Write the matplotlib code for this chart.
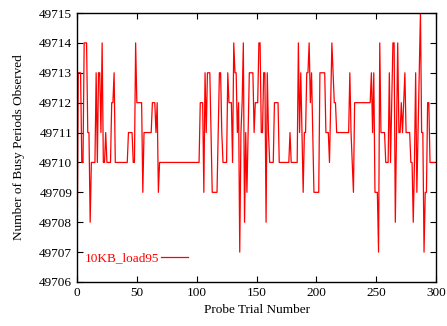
import matplotlib
matplotlib.use("Agg")
import matplotlib.pyplot as plt
import numpy as np

plt.rcParams['font.family'] = ['Liberation Serif', 'DejaVu Serif']

series_label = "10KB_load95"
busy_periods = (
    [49706, 49713, 49713, 49713, 49710, 49710, 49714, 49714, 49714, 49711,
     49711, 49708, 49710, 49710, 49710, 49710, 49713, 49710, 49713, 49713,
     49711, 49714, 49710, 49710, 49711, 49710, 49710, 49710, 49710, 49712,
     49712, 49713]
    + [49710] * 11
    + [49711] * 4
    + [49710] * 2
    + [49714]
    + [49712] * 5
    + [49709]
    + [49711] * 7
    + [49712] * 3
    + [49711, 49712, 49709]
    + [49710] * 34
    + [49712] * 3
    + [49709, 49713, 49711]
    + [49713] * 3
    + [49711]
    + [49709] * 5
    + [49711, 49713, 49713, 49711]
    + [49710] * 4
    + [49713]
    + [49712] * 3
    + [49710, 49714, 49713, 49713, 49711, 49712, 49707, 49711, 49712, 49714,
       49708, 49711, 49709, 49711]
    + [49713] * 4
    + [49711]
    + [49712] * 3
    + [49714] * 2
    + [49711] * 2
    + [49713, 49713, 49708, 49713, 49711]
    + [49710] * 4
    + [49712] * 4
    + [49710] * 9
    + [49711]
    + [49710] * 6
    + [49714, 49711, 49713, 49711, 49709, 49711, 49711, 49713, 49713, 49714,
       49712, 49713, 49711]
    + [49709] * 5
    + [49713] * 5
    + [49711] * 3
    + [49710, 49712, 49714, 49713, 49712, 49712]
    + [49711] * 11
    + [49713, 49711, 49710, 49709]
    + [49712] * 14
    + [49713, 49711, 49713, 49709, 49709, 49709, 49707, 49714]
    + [49711] * 4
    + [49710] * 3
    + [49713, 49710, 49712, 49714, 49714, 49708, 49711, 49714, 49711, 49711,
       49712, 49711, 49712, 49713]
    + [49711] * 4
    + [49710, 49710, 49708, 49710, 49713, 49709, 49711, 49713, 49715, 49711,
       49711, 49707, 49709, 49709, 49712, 49712]
    + [49710] * 5
)
trials = np.arange(len(busy_periods))

x_ticks = [0, 50, 100, 150, 200, 250, 300]
y_ticks = list(range(49706, 49716))

fig = plt.figure(figsize=(4.47, 3.26), dpi=100)
ax = fig.add_axes([77/447, 1 - 282/326, (436 - 77)/447, (282 - 13)/326])

ax.plot(trials, busy_periods, color='#ff0000', lw=0.9, label=series_label)

ax.set_xlim(0, 300)
ax.set_ylim(49706, 49715)
ax.set_xticks(x_ticks)
ax.set_yticks(y_ticks)
ax.ticklabel_format(useOffset=False, style='plain', axis='y')
ax.tick_params(direction='in', top=True, right=True, length=4, width=0.8,
               labelsize=9.5)
for s in ax.spines.values():
    s.set_linewidth(1.0)

ax.set_xlabel("Probe Trial Number", fontsize=9.5, labelpad=4)
ax.set_ylabel("Number of Busy Periods Observed", fontsize=9.5, labelpad=10)

leg = ax.legend(loc='lower left', bbox_to_anchor=(0.0, 0.035), frameon=False,
                markerfirst=False, handlelength=2.0, handletextpad=0.15,
                fontsize=9.5, borderaxespad=0.2)
for t in leg.get_texts():
    t.set_color('#ff0000')

fig.savefig("out.png", dpi=100)
